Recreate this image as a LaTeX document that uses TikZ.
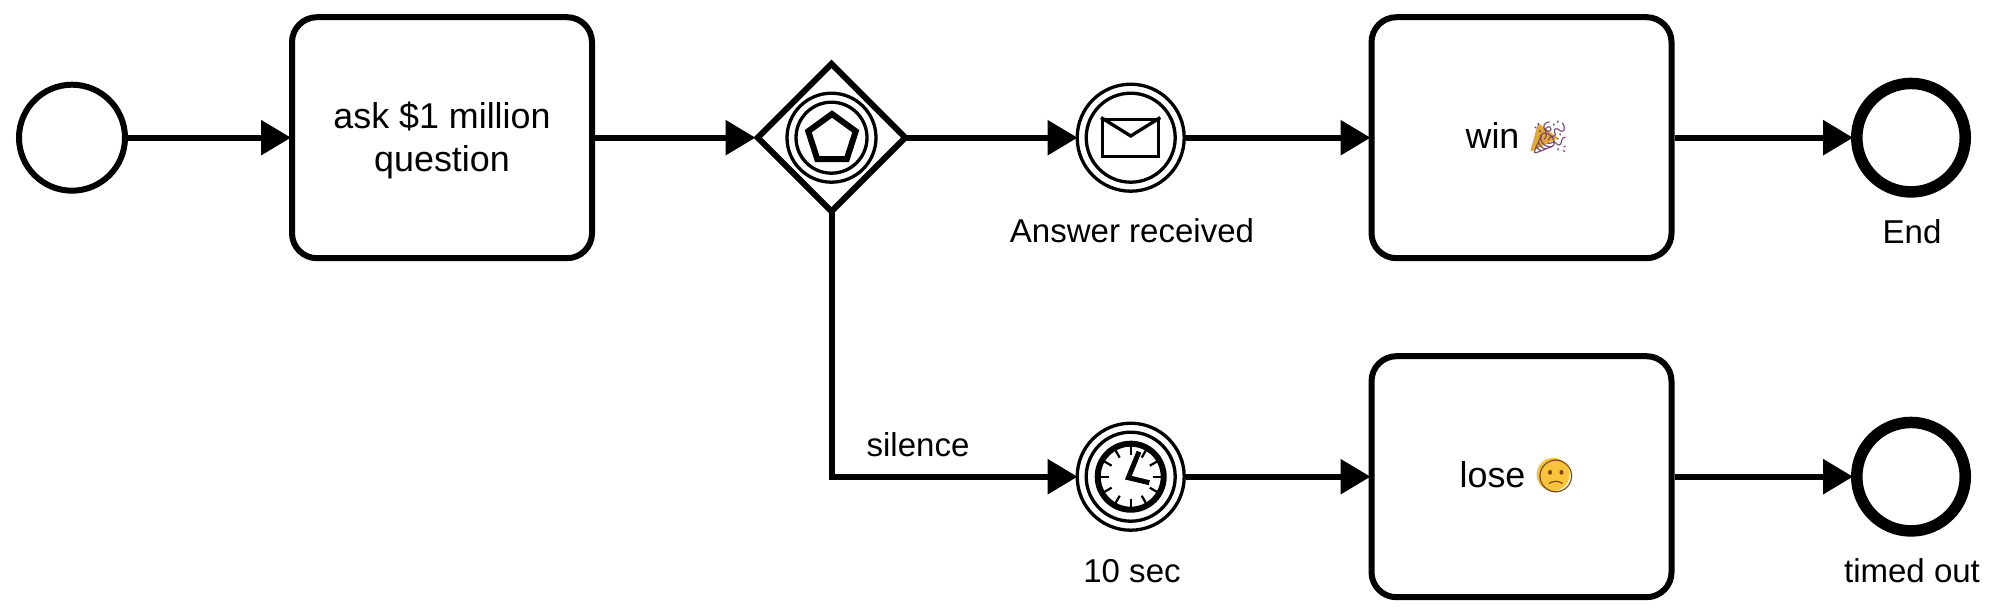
\documentclass[tikz,border=0pt]{standalone}
\usepackage{fontspec}
\setmainfont{Liberation Sans}
\newfontfamily\emojifont{Noto Emoji}
\usetikzlibrary{arrows.meta,shapes.geometric}

\definecolor{popgold}{RGB}{226,170,50}
\definecolor{popink}{RGB}{120,70,120}
\definecolor{faceyellow}{RGB}{250,195,60}
\definecolor{facebrown}{RGB}{120,70,10}

\tikzset{
  taskfont/.style={font=\fontsize{10.2}{12.3}\selectfont},
  taskbox/.style={draw, line width=.06cm, rounded corners=.25cm, minimum width=3cm, minimum height=2.41cm, inner sep=0pt, align=center, taskfont},
  startev/.style={draw, circle, line width=.06cm, minimum size=1.06cm, inner sep=0pt},
  endev/.style={draw, circle, line width=.115cm, minimum size=1.085cm, inner sep=0pt},
  ring/.style={draw, circle, line width=.033cm, inner sep=0pt},
  flow/.style={-{Triangle[length=.3cm, width=.34cm]}, line width=.06cm, shorten >=-.02cm},
  lbl/.style={inner sep=0pt, align=center}
}
\newcommand{\emj}[2]{{\emojifont\fontsize{9.2}{12.3}\selectfont\textcolor{#1}{#2}}\kern.07cm}

\begin{document}
\begin{tikzpicture}[every node/.style={font=\fontsize{9.4}{12.3}\selectfont}]
  \useasboundingbox (0,0) rectangle (20.01,6.15);

  \node[circle, fill=faceyellow, minimum size=.33cm, inner sep=0pt] (facebg) at (15.53,1.405) {};
  \fill[popgold, rounded corners=.02cm] (15.30,4.63) -- (15.38,4.92) -- (15.58,4.77) -- cycle;

  \node[startev] (start) at (.72,4.773) {};
  \node[taskbox] (ask) at (4.42,4.773) {};
  \node[lbl, taskfont] (asklbl) at (4.42,4.745) {ask \$1 million\\question};
  \node[draw, diamond, line width=.06cm, minimum size=1.5cm, inner sep=0pt] (gw) at (8.315,4.773) {};
  \node[ring, minimum size=.89cm] (gwa) at (gw) {};
  \node[ring, minimum size=.71cm] (gwb) at (gw) {};
  \node[draw, regular polygon, regular polygon sides=5, line width=.06cm, minimum size=.5cm, inner sep=0pt] (penta) at (8.32,4.76) {};

  \node[ring, minimum size=1.07cm] (msg) at (11.307,4.773) {};
  \node[ring, minimum size=.89cm] (msgb) at (msg) {};
  \node[draw, line width=.033cm, minimum width=.56cm, minimum height=.37cm, inner sep=0pt] (env) at (11.307,4.773) {};
  \draw[line width=.033cm] (env.north west) -- (11.307,4.79) -- (env.north east);
  \node[lbl] (msglbl) at (11.32,3.84) {Answer received};

  \node[taskbox] (win) at (15.215,4.773) {win \emj{popink}{🎉}};
  \node[endev] (end) at (19.11,4.773) {};
  \node[lbl] (endlbl) at (19.12,3.83) {End};

  \node[ring, minimum size=1.07cm] (tmr) at (11.307,1.383) {};
  \node[ring, minimum size=.89cm] (tmrb) at (tmr) {};
  \node[draw, circle, line width=.06cm, minimum size=.66cm, inner sep=0pt] (clk) at (tmr) {};
  \foreach \a in {0,30,...,330}
    \draw[line width=.022cm] (clk) ++(\a:.22) -- ++(\a:.09);
  \draw[line width=.05cm] (11.39,1.633) -- (11.283,1.373) -- (11.493,1.323);
  \node[lbl] (tmrlbl) at (11.32,.44) {10 sec};

  \node[taskbox] (lose) at (15.215,1.383) {lose \emj{facebrown}{🙁}};
  \node[endev] (out) at (19.11,1.383) {};
  \node[lbl] (outlbl) at (19.12,.44) {timed out};

  \draw[flow] (start) -- (ask);
  \draw[flow] (ask) -- (gw);
  \draw[flow, shorten <=-.04cm] (gw) -- (msg);
  \draw[flow] (msg) -- (win);
  \draw[flow] (win) -- (end);
  \draw[flow, shorten <=-.04cm] (gw.south) |- (tmr);
  \draw[flow] (tmr) -- (lose);
  \draw[flow] (lose) -- (out);
  \node[lbl] (silence) at (9.18,1.70) {silence};
\end{tikzpicture}
\end{document}
